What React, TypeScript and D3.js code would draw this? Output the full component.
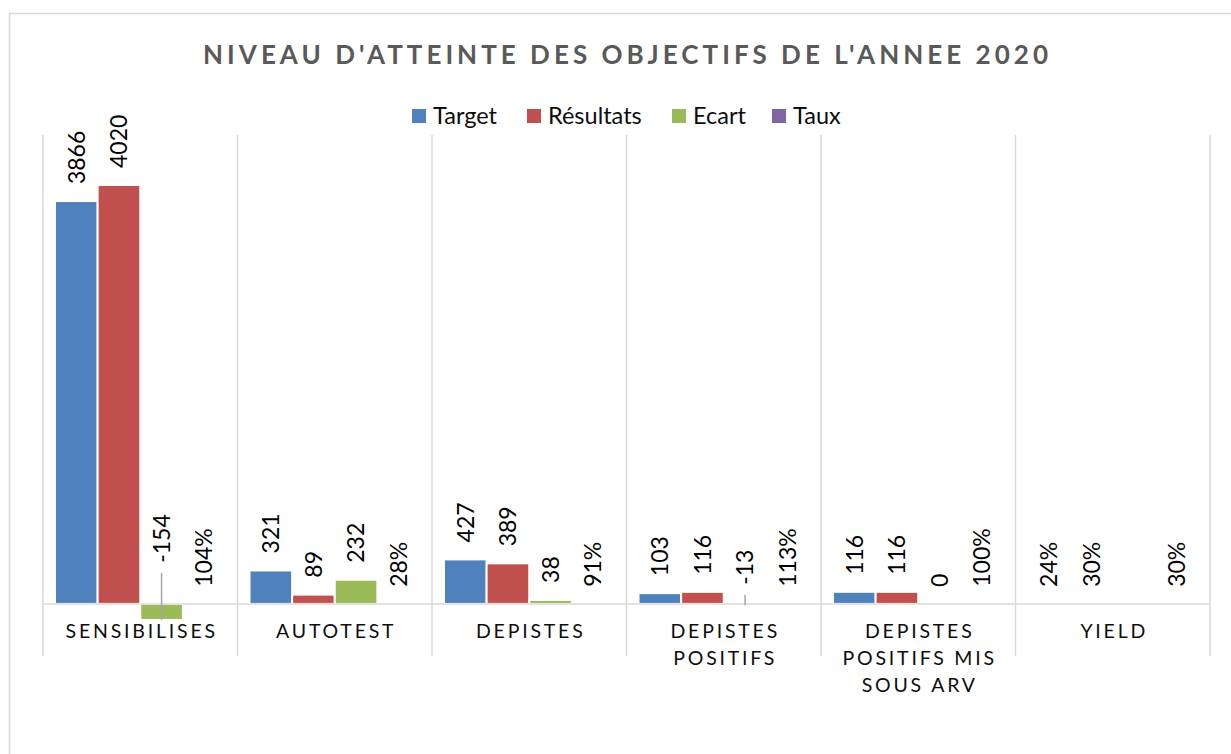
import { useEffect, useRef } from 'react';
import { select, scaleBand, scaleLinear, format } from 'd3';

// chart data
const categories = ['SENSIBILISES', 'AUTOTEST', 'DEPISTES', 'DEPISTES POSITIFS', 'DEPISTES POSITIFS MIS SOUS ARV', 'YIELD'];
const seriesNames = ['Target', 'Résultats', 'Ecart', 'Taux'];
const target = [3866, 321, 427, 103, 116, 0.24];
const resultats = [4020, 89, 389, 116, 116, 0.3];
const ecart: (number | null)[] = [-154, 232, 38, -13, 0, null];
const taux = [1.04, 0.28, 0.91, 1.13, 1.0, 0.3];
const seriesColors = ['#4F81BD', '#C0504D', '#9BBB59', '#8064A2'];
const percentSeries = ['Taux'];
const percentCategories = ['YIELD'];
const valueDomain = [-500, 4500];

const W = 1231;
const H = 754;

// greedy wrap on character count, like excel does for long category names
function wrap(label: string, maxChars: number) {
  const words = label.split(' ');
  const lines: string[] = [];
  let cur = '';
  words.forEach((w) => {
    const next = cur ? cur + ' ' + w : w;
    if (next.length > maxChars && cur) {
      lines.push(cur);
      cur = w;
    } else cur = next;
  });
  if (cur) lines.push(cur);
  return lines;
}

export default function App() {
  const svgRef = useRef<SVGSVGElement>(null);

  useEffect(() => {
    const svg = select(svgRef.current);
    svg.selectAll('*').remove();

    const seriesValues = [target, resultats, ecart, taux];
    const pctFmt = format('.0%');

    const x = scaleBand<string>().domain(categories).range([43, 1210]).padding(0);
    const bw = x.bandwidth();
    const inner = scaleBand<string>().domain(seriesNames).range([12, bw - 12]).padding(0);
    const y = scaleLinear().domain(valueDomain).range([656, 135]);
    const y0 = y(0);

    // chart frame
    svg
      .append('rect')
      .attr('x', 9.5)
      .attr('y', 13.5)
      .attr('width', W + 20)
      .attr('height', H + 20)
      .attr('fill', '#fff')
      .attr('stroke', '#d9d9d9')
      .attr('stroke-width', 1.5);

    // title
    svg
      .append('text')
      .attr('x', 625.5)
      .attr('y', 64)
      .attr('text-anchor', 'middle')
      .attr('font-size', 26)
      .attr('font-weight', 'bold')
      .attr('fill', '#595959')
      .attr('textLength', 845)
      .attr('lengthAdjust', 'spacing')
      .text("NIVEAU D'ATTEINTE DES OBJECTIFS DE L'ANNEE 2020");

    // legend
    const legendX = [412, 527, 672, 772];
    const legend = svg
      .selectAll('.legend')
      .data(seriesNames)
      .join('g')
      .attr('class', 'legend')
      .attr('transform', (d, i) => `translate(${legendX[i]}, 109)`);
    legend
      .append('rect')
      .attr('width', 14)
      .attr('height', 14)
      .attr('fill', (d, i) => seriesColors[i]);
    legend
      .append('text')
      .attr('x', 21)
      .attr('y', 14.5)
      .attr('font-size', 23.5)
      .attr('fill', '#0d0d0d')
      .text((d) => d);

    // category separators (vertical gridlines)
    const bounds = [...categories.map((c) => x(c) as number), 1210];
    svg
      .selectAll('.sep')
      .data(bounds)
      .join('line')
      .attr('class', 'sep')
      .attr('x1', (d) => d)
      .attr('x2', (d) => d)
      .attr('y1', y(valueDomain[1]))
      .attr('y2', y(valueDomain[0]))
      .attr('stroke', '#d9d9d9')
      .attr('stroke-width', 1.5);

    // bars
    const bars = seriesNames.flatMap((s, si) =>
      categories.map((c, ci) => ({ s, si, c, ci, v: seriesValues[si][ci] }))
    ).filter((d) => d.v !== null) as { s: string; si: number; c: string; ci: number; v: number }[];

    const barX = (d: { s: string; c: string }) => (x(d.c) as number) + (inner(d.s) as number);

    svg
      .selectAll('.bar')
      .data(bars)
      .join('rect')
      .attr('class', 'bar')
      .attr('x', (d) => barX(d))
      .attr('width', inner.bandwidth())
      .attr('y', (d) => Math.min(y(d.v), y0))
      .attr('height', (d) => Math.abs(y(d.v) - y0))
      .attr('fill', (d) => seriesColors[d.si])
      .attr('stroke', '#fff')
      .attr('stroke-width', 2);

    // horizontal axis line
    svg
      .append('line')
      .attr('x1', 43)
      .attr('x2', 1210)
      .attr('y1', y0)
      .attr('y2', y0)
      .attr('stroke', '#d9d9d9')
      .attr('stroke-width', 1.5);

    // data labels, rotated; negative ones were pushed up with a leader line
    const labelBottom = (d: { v: number }) =>
      d.v >= 0 ? y(d.v) - 17 : y0 - 17 - (y(d.v) - y0) * 1.5;
    const labelText = (d: { s: string; c: string; v: number }) =>
      percentSeries.includes(d.s) || percentCategories.includes(d.c) ? pctFmt(d.v) : String(d.v);

    svg
      .selectAll('.leader')
      .data(bars.filter((d) => d.v < 0))
      .join('line')
      .attr('class', 'leader')
      .attr('x1', (d) => barX(d) + inner.bandwidth() / 2)
      .attr('x2', (d) => barX(d) + inner.bandwidth() / 2)
      .attr('y1', (d) => labelBottom(d) + 10)
      .attr('y2', (d) => y(d.v))
      .attr('stroke', '#a6a6a6')
      .attr('stroke-width', 1.5);

    svg
      .selectAll('.dlabel')
      .data(bars)
      .join('text')
      .attr('class', 'dlabel')
      .attr('transform', (d) => `translate(${barX(d) + inner.bandwidth() / 2}, ${labelBottom(d)}) rotate(-90)`)
      .attr('dy', '0.36em')
      .attr('font-size', 23)
      .attr('fill', '#000')
      .text((d) => labelText(d));

    // category labels
    const catLabels = svg
      .selectAll('.cat')
      .data(categories)
      .join('text')
      .attr('class', 'cat')
      .attr('x', (d) => (x(d) as number) + bw / 2 + 1.5)
      .attr('y', 638)
      .attr('text-anchor', 'middle')
      .attr('font-size', 19.5)
      .attr('letter-spacing', 2.8)
      .attr('fill', '#0d0d0d');
    catLabels
      .selectAll('tspan')
      .data((d) => wrap(d, 12).map((line) => ({ line, d })))
      .join('tspan')
      .attr('x', (t) => (x(t.d) as number) + bw / 2 + 1.5)
      .attr('dy', (t, i) => (i === 0 ? 0 : 27))
      .text((t) => t.line);
  }, []);

  return (
    <svg
      ref={svgRef}
      width={W}
      height={H}
      style={{ position: 'absolute', left: 0, top: 0, fontFamily: 'Lato, "Open Sans", sans-serif', background: '#fff' }}
    ></svg>
  );
}
